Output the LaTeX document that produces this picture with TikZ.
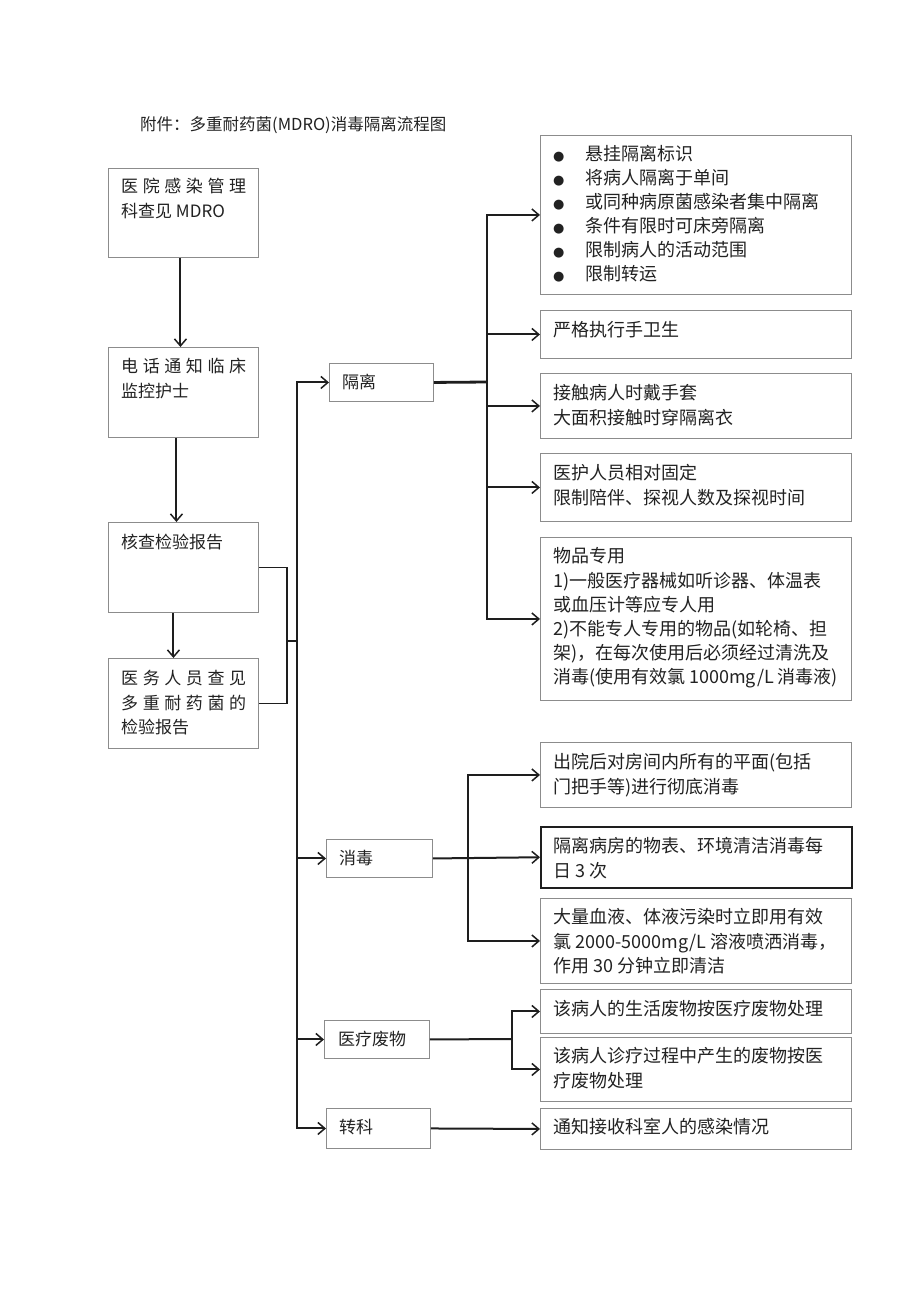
\documentclass[tikz,border=0pt]{standalone}
\usepackage{fontspec}
\setmainfont{Noto Sans CJK SC}
\newfontfamily\bulletfont{DejaVu Sans}
\usetikzlibrary{arrows.meta}
\definecolor{boxgray}{HTML}{8C8C8C}
\definecolor{linecol}{HTML}{1E1E1E}
\definecolor{txtcol}{HTML}{222222}
\newcommand\mkbox[6][]{\node[box,#1,minimum width=#5pt-#3pt,minimum height=#6pt-#4pt] (#2) at (#3,#4) {};}
\newcommand\mktxt[5][]{\node[txt,#1] (#2) at (#3,#4-10.3) {\rule{0pt}{17pt}#5};}
\newcommand\bul{\makebox[32pt][l]{\bulletfont\fontsize{13}{13}\selectfont ●}}
\begin{document}
\begin{tikzpicture}[x=1pt,y=-1pt,
  box/.style={draw=boxgray,line width=0.9pt,inner sep=0pt,anchor=north west},
  darkbox/.style={draw=linecol,line width=1.5pt},
  txt/.style={inner sep=0pt,anchor=north west,align=left,text=txtcol,font=\fontsize{18}{24.2}\selectfont},
  lefttxt/.style={font=\fontsize{17}{24.5}\selectfont},
  grptxt/.style={font=\fontsize{17}{24}\selectfont},
  conn/.style={draw=linecol,line width=2pt},
  thinconn/.style={draw=linecol,line width=1.5pt},
  thickconn/.style={draw=linecol,line width=2.8pt},
  arr/.style={conn,-{Straight Barb[length=7pt,width=12pt,line width=1.5pt]}}]
\useasboundingbox (0,0) rectangle (920,1301);
\fill[white] (0,0) rectangle (920,1301);

% title
\mktxt[font=\fontsize{16.5}{20}\selectfont]{title}{140}{124}{附件：多重耐药菌(MDRO)消毒隔离流程图}

% left column
\mkbox{A}{108}{168}{258}{257}
\mkbox{B}{108}{347}{258}{437}
\mkbox{C}{108}{522}{258}{612}
\mkbox{D}{108}{658}{258}{748}
\mktxt[lefttxt]{At}{121}{186}{\makebox[125pt][s]{医\hfill 院\hfill 感\hfill 染\hfill 管\hfill 理}\\科查见 MDRO}
\mktxt[lefttxt]{Bt}{121}{366}{\makebox[125pt][s]{电\hfill 话\hfill 通\hfill 知\hfill 临\hfill 床}\\监控护士}
\mktxt[lefttxt]{Ct}{121}{542}{核查检验报告}
\mktxt[lefttxt]{Dt}{121}{678}{\makebox[125pt][s]{医\hfill 务\hfill 人\hfill 员\hfill 查\hfill 见}\\\makebox[125pt][s]{多\hfill 重\hfill 耐\hfill 药\hfill 菌\hfill 的}\\检验报告}

% group boxes
\mkbox{G1}{329}{363}{433}{401}
\mkbox{G2}{326}{839}{432}{877}
\mkbox{G3}{324}{1020}{429}{1058}
\mkbox{G4}{326}{1108}{430}{1148}
\mktxt[grptxt]{G1t}{342}{382}{隔离}
\mktxt[grptxt]{G2t}{339}{858}{消毒}
\mktxt[grptxt]{G3t}{338}{1039}{医疗废物}
\mktxt[grptxt]{G4t}{339}{1127}{转科}

% right boxes
\mkbox{R1}{540}{135}{851}{294}
\mkbox{R2}{540}{310}{851}{358}
\mkbox{R3}{540}{373}{851}{438}
\mkbox{R4}{540}{453}{851}{521}
\mkbox{R5}{540}{537}{851}{700}
\mkbox{R6}{540}{742}{851}{807}
\mkbox[darkbox]{R7}{540}{826}{851}{887}
\mkbox{R8}{540}{898}{851}{983}
\mkbox{R9}{540}{989}{851}{1033}
\mkbox{R10}{540}{1037}{851}{1101}
\mkbox{R11}{540}{1108}{851}{1149}

\mktxt[font=\fontsize{18}{23.9}\selectfont]{R1t}{553}{154}{\bul 悬挂隔离标识\\\bul 将病人隔离于单间\\\bul 或同种病原菌感染者集中隔离\\\bul 条件有限时可床旁隔离\\\bul 限制病人的活动范围\\\bul 限制转运}
\mktxt{R2t}{553}{330}{严格执行手卫生}
\mktxt{R3t}{553}{393}{接触病人时戴手套\\大面积接触时穿隔离衣}
\mktxt{R4t}{553}{473}{医护人员相对固定\\限制陪伴、探视人数及探视时间}
\mktxt{R5t}{553}{556}{物品专用\\1)一般医疗器械如听诊器、体温表\\或血压计等应专人用\\2)不能专人专用的物品(如轮椅、担\\架)，在每次使用后必须经过清洗及\\消毒(使用有效氯 1000mg/L 消毒液)}
\mktxt{R6t}{553}{762}{出院后对房间内所有的平面(包括\\门把手等)进行彻底消毒}
\mktxt{R7t}{553}{846}{隔离病房的物表、环境清洁消毒每\\日 3 次}
\mktxt{R8t}{553}{917}{大量血液、体液污染时立即用有效\\氯 2000-5000mg/L 溶液喷洒消毒，\\作用 30 分钟立即清洁}
\mktxt{R9t}{553}{1009}{该病人的生活废物按医疗废物处理}
\mktxt{R10t}{553}{1056}{该病人诊疗过程中产生的废物按医\\疗废物处理}
\mktxt{R11t}{553}{1127}{通知接收科室人的感染情况}

% left chain
\draw[arr] ([xshift=-3pt]A.south) -- ([xshift=-3pt]B.north);
\draw[arr] ([xshift=-7pt]B.south) -- ([xshift=-7pt]C.north);
\draw[arr] ([xshift=-10pt]C.south) -- ([xshift=-10pt]D.north);

% bracket and spine
\coordinate (brk) at (287,641);
\coordinate (spine) at (297,641);
\draw[thinconn] (C.east) -| (brk) |- (D.east);
\draw[thinconn] (brk) -- (spine);
\draw[arr] (spine) |- (G1.west);
\draw[arr] (spine) |- (G2.west);
\draw[arr] (spine) |- (G3.west);
\draw[arr] (spine) |- (G4.west);

% isolation branches
\coordinate (h1) at (487,382);
\draw[thickconn] (G1.east) -- (h1);
\draw[arr] (h1) |- (R1.west);
\draw[arr] (h1) |- (R2.west);
\draw[arr] (h1) |- (R3.west);
\draw[arr] (h1) |- (R4.west);
\draw[arr] (h1) |- (R5.west);

% disinfection branches
\coordinate (h2) at (468,858);
\draw[arr] (G2.east) -- (R7.west);
\draw[arr] (h2) |- (R6.west);
\draw[arr] (h2) |- (R8.west);

% medical waste
\coordinate (h3) at (512,1039);
\draw[conn] (G3.east) -- (h3);
\draw[arr] (h3) |- (R9.west);
\draw[arr] (h3) |- (R10.west);

% transfer
\draw[arr] (G4.east) -- (R11.west);
\end{tikzpicture}
\end{document}
